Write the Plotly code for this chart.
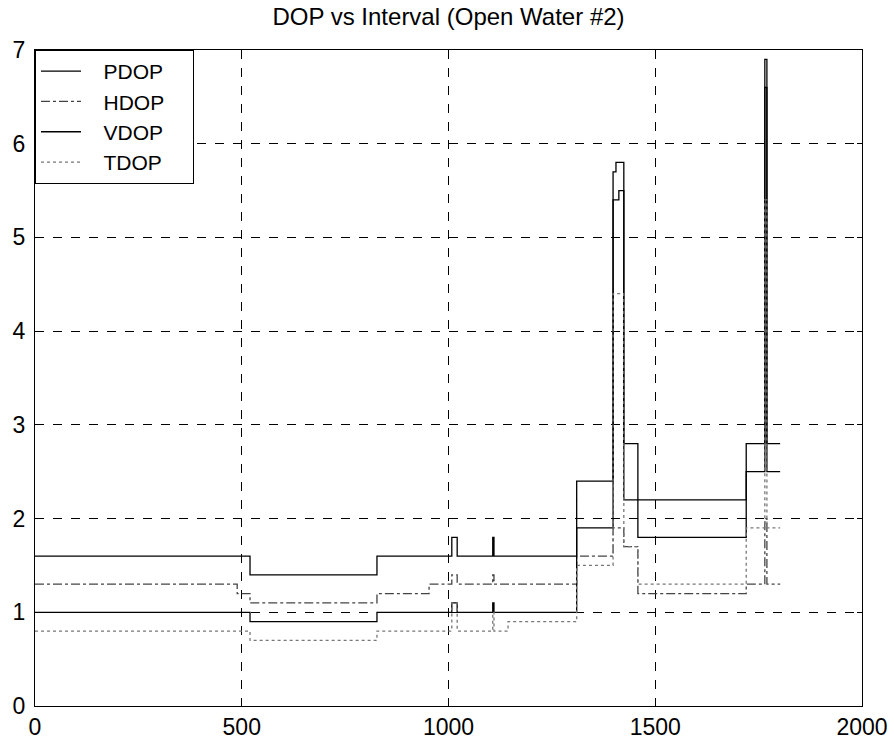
import plotly.graph_objects as go

# Step-change breakpoints (interval) and values for each DOP series
pdop_x = [0, 520, 827, 1008, 1021, 1107, 1110, 1310, 1398, 1405, 1424, 1458, 1720, 1765, 1770, 1802]
pdop_y = [1.6, 1.4, 1.6, 1.8, 1.6, 1.8, 1.6, 2.4, 5.7, 5.8, 2.8, 2.2, 2.8, 6.9, 2.8, 2.8]

hdop_x = [0, 489, 520, 827, 953, 1008, 1021, 1107, 1110, 1310, 1398, 1424, 1458, 1720, 1765, 1770, 1802]
hdop_y = [1.3, 1.2, 1.1, 1.2, 1.3, 1.4, 1.3, 1.4, 1.3, 1.6, 1.9, 1.7, 1.2, 1.3, 2.0, 1.3, 1.3]

vdop_x = [0, 520, 827, 1008, 1021, 1107, 1110, 1310, 1398, 1412, 1424, 1458, 1720, 1765, 1770, 1802]
vdop_y = [1.0, 0.9, 1.0, 1.1, 1.0, 1.1, 1.0, 1.9, 5.4, 5.5, 2.2, 1.8, 2.5, 6.6, 2.5, 2.5]

tdop_x = [0, 520, 827, 1008, 1021, 1107, 1110, 1144, 1310, 1398, 1424, 1458, 1720, 1765, 1770, 1802]
tdop_y = [0.8, 0.7, 0.8, 1.1, 0.8, 1.0, 0.8, 0.9, 1.5, 4.4, 1.7, 1.3, 1.9, 5.4, 1.9, 1.9]

x_ticks = [0, 500, 1000, 1500, 2000]
y_ticks = [0, 1, 2, 3, 4, 5, 6, 7]

FONT = "Liberation Sans, Arial, sans-serif"
NB = "\u00a0"

fig = go.Figure()
series = [
    ("PDOP", pdop_x, pdop_y, "#000000", "solid"),
    ("HDOP", hdop_x, hdop_y, "#444444", "dashdot"),
    ("VDOP", vdop_x, vdop_y, "#000000", "solid"),
    ("TDOP", tdop_x, tdop_y, "#777777", "dot"),
]
for name, xs, ys, col, dash in series:
    fig.add_trace(go.Scatter(x=xs, y=ys, mode="lines", name=NB * 3 + name + NB * 4,
                             line=dict(color=col, width=1.3, dash=dash, shape="hv")))

axis_common = dict(showline=True, linecolor="black", linewidth=1, mirror="ticks",
                   ticks="inside", ticklen=5, tickcolor="black", automargin=False,
                   showgrid=True, gridcolor="black", gridwidth=1, griddash="dash",
                   zeroline=False, tickfont=dict(family=FONT, size=23, color="black"))

fig.update_xaxes(range=[0, 2000], tickvals=x_ticks, **axis_common)
fig.update_yaxes(range=[0, 7], tickvals=y_ticks, ticklabelstandoff=4, **axis_common)

fig.update_layout(
    width=894, height=747,
    margin=dict(l=35, r=32, t=50, b=41),
    paper_bgcolor="white", plot_bgcolor="white",
    title=dict(text="DOP vs Interval (Open Water #2)", x=(35 + 862) / 2 / 894, xanchor="center",
               y=1 - 17 / 747, yanchor="middle", yref="container",
               font=dict(family=FONT, size=24, color="black")),
    legend=dict(x=0, y=1, xanchor="left", yanchor="top", bgcolor="white",
                bordercolor="black", borderwidth=1,
                font=dict(family=FONT, size=21, color="black"),
                tracegroupgap=0, itemwidth=40),
    showlegend=True,
)

fig.write_html("out.html", config={"displayModeBar": False},
               post_script="document.body.style.margin='0';")
